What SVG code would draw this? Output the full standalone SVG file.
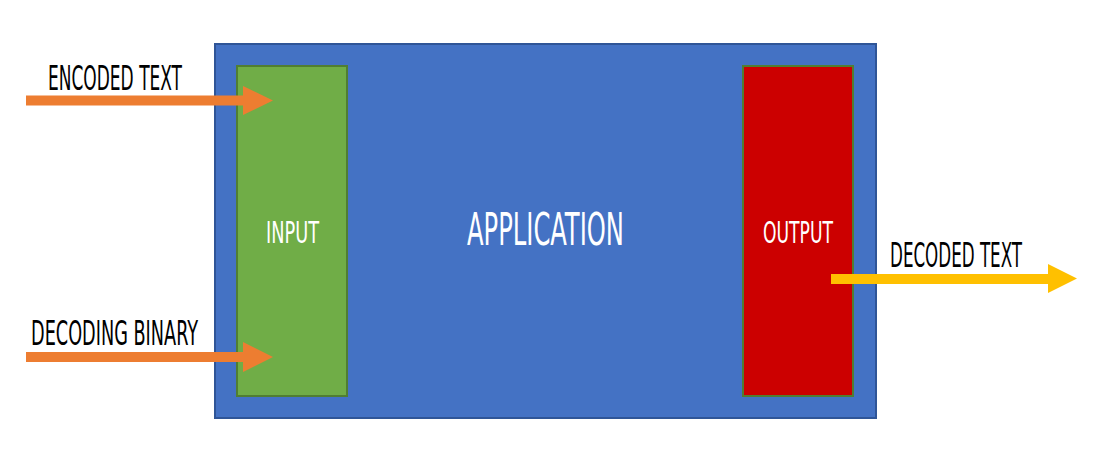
<svg xmlns="http://www.w3.org/2000/svg" width="1113" height="465" viewBox="0 0 1113 465">
<style>
.t{font-family:"Liberation Sans Narrow","DejaVu Sans Condensed","Liberation Sans",sans-serif;}
.lbl{font-size:33px;fill:#000;}
.in{font-size:30px;fill:#fff;}
.app{font-size:44px;fill:#fff;}
</style>
<rect width="1113" height="465" fill="#fff"/>
<g id="application">
<rect x="215" y="44" width="661" height="374" fill="#4472C4" stroke="#2F5597" stroke-width="2"/>
<text class="t app" x="467" y="245" textLength="157" lengthAdjust="spacingAndGlyphs">APPLICATION</text>
</g>
<g id="input">
<rect x="237" y="66" width="110" height="330" fill="#70AD47" stroke="#507E32" stroke-width="2"/>
<text class="t in" x="266" y="243" textLength="53" lengthAdjust="spacingAndGlyphs">INPUT</text>
</g>
<g id="output">
<rect x="743" y="66" width="110" height="330" fill="#CC0000" stroke="#507E32" stroke-width="2"/>
<text class="t in" x="763" y="243" textLength="70" lengthAdjust="spacingAndGlyphs">OUTPUT</text>
</g>
<g id="connectors">
<polygon points="26,95.5 243,95.5 243,86 273,100.5 243,115 243,105.5 26,105.5" fill="#ED7D31"/>
<polygon points="26,352 243,352 243,342 273,357 243,372 243,362 26,362" fill="#ED7D31"/>
<polygon points="831,274 1048,274 1048,264 1077,278.5 1048,293 1048,284 831,284" fill="#FFC000"/>
</g>
<g id="labels">
<text class="t lbl" x="48" y="90" textLength="134" lengthAdjust="spacingAndGlyphs">ENCODED TEXT</text>
<text class="t lbl" x="31" y="345" textLength="167" lengthAdjust="spacingAndGlyphs">DECODING BINARY</text>
<text class="t lbl" x="890" y="267" textLength="132" lengthAdjust="spacingAndGlyphs">DECODED TEXT</text>
</g>
</svg>
